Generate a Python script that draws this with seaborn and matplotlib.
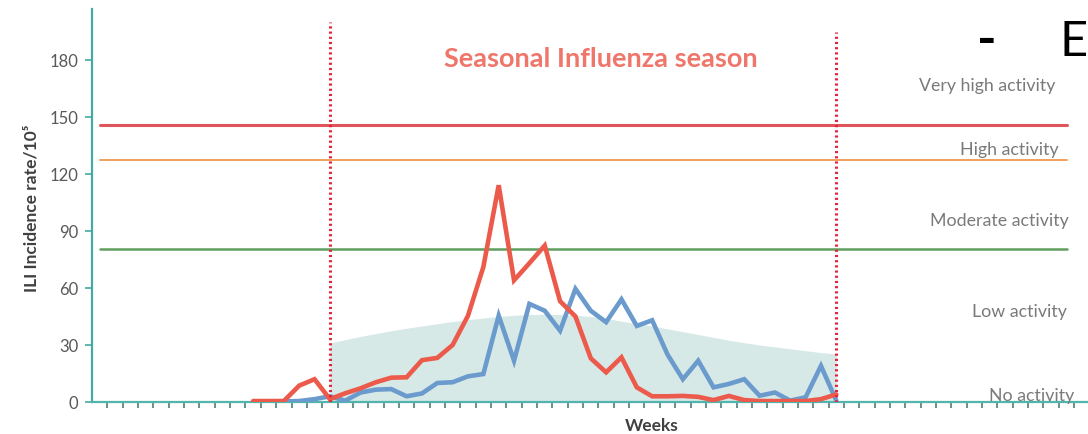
import numpy as np
import pandas as pd
import matplotlib
matplotlib.use("Agg")
import matplotlib.pyplot as plt
import seaborn as sns

# ---------------- data ----------------
red_weeks = list(range(10, 49))
red_values = [0.5, 0.5, 0.5, 8.6, 12.0, 1.5, 4.6, 7.2, 10.4, 12.8,
              13.0, 22.0, 23.2, 30.0, 45.4, 71.0, 114.0, 64.0, 73.0, 82.3,
              53.0, 45.0, 23.0, 15.6, 23.5, 7.7, 3.0, 3.0, 3.2, 2.7,
              1.0, 3.2, 1.0, 0.5, 0.5, 0.5, 0.5, 1.5, 4.0]

blue_weeks = list(range(12, 49))
blue_values = [0.3, 0.5, 1.5, 3.0, 0.7, 5.0, 6.5, 6.8, 3.0, 4.5,
               10.0, 10.4, 13.5, 14.7, 45.4, 21.7, 51.6, 48.0, 37.5, 59.5,
               48.0, 42.0, 54.0, 40.0, 43.0, 25.0, 12.0, 21.7, 7.7, 9.5,
               12.0, 3.3, 5.0, 0.7, 2.5, 19.0, 0.7]

band_weeks = list(range(15, 49))
band_values = [31.0, 32.8, 34.5, 36.0, 37.5, 38.8, 40.0, 41.2, 42.3, 43.3,
               44.2, 45.0, 45.6, 46.0, 46.1, 46.0, 45.6, 45.0, 44.0, 42.5,
               41.2, 40.0, 38.5, 37.0, 35.5, 34.0, 32.5, 31.2, 30.0, 29.0,
               28.0, 27.0, 26.0, 25.3]

threshold_names = ["very high", "high", "moderate"]
threshold_values = [145.5, 127.2, 80.3]
threshold_first_week = 0
threshold_last_week = 63

season_bounds = [15, 48]
y_ticks = [0, 30, 60, 90, 120, 150, 180]
n_weeks = 64

activity_labels = ["Very high activity", "High activity", "Moderate activity",
                   "Low activity", "No activity"]

# ---------------- style ----------------
sns.set_style("white")
plt.rcParams['font.family'] = ['Lato', 'DejaVu Sans']

W, H = 1088, 435
fig = plt.figure(figsize=(W / 100, H / 100), dpi=100)
ax = fig.add_axes([92 / W, 32 / H, (W - 92) / W, (403 - 10) / H])

# shaded band
ax.fill_between(band_weeks, 0, band_values, color='#d7e9e7', lw=0, zorder=1)

# thresholds
thr_colors = ['#e0555c', '#f2a05c', '#5e9f5e']
thr_widths = [2.2, 1.4, 1.8]
for v, c, lw in zip(threshold_values, thr_colors, thr_widths):
    thr_df = pd.DataFrame({'week': [threshold_first_week, threshold_last_week],
                           'rate': [v, v]})
    sns.lineplot(data=thr_df, x='week', y='rate', ax=ax, color=c, lw=lw, zorder=2)

# series
blue_df = pd.DataFrame({'week': blue_weeks, 'rate': blue_values})
red_df = pd.DataFrame({'week': red_weeks, 'rate': red_values})
sns.lineplot(data=blue_df, x='week', y='rate', ax=ax, color='#6b9bcd', lw=3.3,
             zorder=3, solid_joinstyle='miter')
sns.lineplot(data=red_df, x='week', y='rate', ax=ax, color='#eb5a4b', lw=3.3,
             zorder=4, solid_joinstyle='miter')

ax.set_xlim(-0.5, 64.4)
ax.set_ylim(0, 206.7)

# season boundaries (dotted)
tops = [0.966, 0.941]
for w, t in zip(season_bounds, tops):
    ax.axvline(w, ymin=0, ymax=t, color='#e3223c', lw=2.2, ls=(0, (0.7, 1.0)),
               zorder=6)

# axes cosmetics
ax.set_yticks(y_ticks)
ax.set_xticks(np.arange(0.5, n_weeks, 1))
ax.set_xticklabels([])
for s in ['top', 'right']:
    ax.spines[s].set_visible(False)
ax.spines['left'].set_color('#45aaa2')
ax.spines['left'].set_linewidth(1.6)
ax.spines['bottom'].set_color('#52b5ad')
ax.spines['bottom'].set_linewidth(1.6)
ax.spines['bottom'].set_zorder(2.5)
ax.tick_params(axis='y', left=True, direction='out', length=5, width=1.2, color='#45aaa2',
               labelsize=12, labelcolor='#595959', pad=5)
ax.tick_params(axis='x', bottom=True, direction='out', length=4, width=1.3,
               color='#5a8a84', pad=2)

ax.set_ylabel("ILI Incidence rate/10⁵", fontsize=12.5, fontweight='bold', color='#404040')
ax.yaxis.set_label_coords((32 - 92) / (W - 92), (403 - 208) / 393)
ax.yaxis.label.set_va('center')
ax.set_xlabel("Weeks", fontsize=12.5, fontweight='bold', color='#404040')
ax.xaxis.set_label_coords((652 - 92) / (W - 92), (403 - 426) / 393)
ax.xaxis.label.set_va('center')

# title
ax.text((601 - 92) / (W - 92), (403 - 59) / 393, "Seasonal Influenza season",
        transform=ax.transAxes, ha='center', va='center', fontsize=19.5,
        fontweight='bold', color='#ef766b')

# activity labels
label_pos = [(1055, 86), (1059, 150), (1069, 221), (1067, 312), (1074, 396)]
for txt, (px, py) in zip(activity_labels, label_pos):
    fig.text(px / W, 1 - py / H, txt, ha='right', va='center', fontsize=12.8,
             color='#7a7a7a')

# slide bullet fragment
fig.text(977 / W, 1 - 56 / H, "-", ha='left', va='baseline', fontsize=38,
         fontweight='bold', color='black')
fig.text(1059 / W, 1 - 56 / H, "E", ha='left', va='baseline', fontsize=35, color='black')

fig.savefig("out.png", dpi=100)
